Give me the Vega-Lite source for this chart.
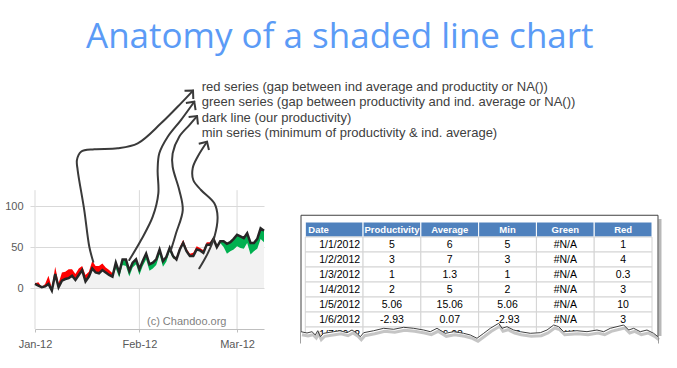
{
  "$schema": "https://vega.github.io/schema/vega-lite/v6.json",
  "background": "white",
  "padding": {"left": 4, "top": 20, "right": 0, "bottom": 0},
  "title": {"text": "Anatomy of a shaded line chart", "font": "Open Sans", "fontSize": 35, "fontWeight": "normal", "color": "#5b9bf6", "anchor": "start", "frame": "group", "baseline": "alphabetic", "offset": -12, "dx": 51},
  "bounds": "flush",
  "spacing": 37,
  "config": {"font": "Liberation Sans", "view": {"stroke": null}},
  "datasets": {
    "grid": [{"date": "2012-01-01"}, {"date": "2012-02-01"}, {"date": "2012-03-01"}],
    "series": [
      {"date": "2012-01-01", "p": 5, "a": 6, "min": 5},
      {"date": "2012-01-02", "p": 3, "a": 7, "min": 3},
      {"date": "2012-01-03", "p": 1, "a": 1.3, "min": 1},
      {"date": "2012-01-04", "p": 2, "a": 5, "min": 2},
      {"date": "2012-01-05", "p": 5.06, "a": 15.06, "min": 5.06},
      {"date": "2012-01-06", "p": -2.93, "a": 0.07, "min": -2.93},
      {"date": "2012-01-07", "p": 17.08, "a": 26.08, "min": 17.08},
      {"date": "2012-01-08", "p": 1, "a": 6, "min": 1},
      {"date": "2012-01-09", "p": 9, "a": 19, "min": 9},
      {"date": "2012-01-10", "p": 11, "a": 20, "min": 11},
      {"date": "2012-01-11", "p": 12, "a": 23, "min": 12},
      {"date": "2012-01-12", "p": 15, "a": 23, "min": 15},
      {"date": "2012-01-13", "p": 10, "a": 17, "min": 10},
      {"date": "2012-01-14", "p": 16, "a": 24, "min": 16},
      {"date": "2012-01-15", "p": 22, "a": 27, "min": 22},
      {"date": "2012-01-16", "p": 8, "a": 16, "min": 8},
      {"date": "2012-01-17", "p": 14, "a": 20, "min": 14},
      {"date": "2012-01-18", "p": 24, "a": 33, "min": 24},
      {"date": "2012-01-19", "p": 19, "a": 27, "min": 19},
      {"date": "2012-01-20", "p": 18, "a": 27, "min": 18},
      {"date": "2012-01-21", "p": 22, "a": 30, "min": 22},
      {"date": "2012-01-22", "p": 19, "a": 25, "min": 19},
      {"date": "2012-01-23", "p": 16, "a": 22, "min": 16},
      {"date": "2012-01-24", "p": 14, "a": 18, "min": 14},
      {"date": "2012-01-25", "p": 31, "a": 24, "min": 24},
      {"date": "2012-01-26", "p": 19, "a": 13, "min": 13},
      {"date": "2012-01-27", "p": 35, "a": 28, "min": 28},
      {"date": "2012-01-28", "p": 35, "a": 27, "min": 27},
      {"date": "2012-01-29", "p": 21, "a": 14, "min": 14},
      {"date": "2012-01-30", "p": 31, "a": 25, "min": 25},
      {"date": "2012-01-31", "p": 35, "a": 29, "min": 29},
      {"date": "2012-02-01", "p": 23, "a": 16, "min": 16},
      {"date": "2012-02-02", "p": 33, "a": 27, "min": 27},
      {"date": "2012-02-03", "p": 42, "a": 35, "min": 35},
      {"date": "2012-02-04", "p": 29, "a": 21, "min": 21},
      {"date": "2012-02-05", "p": 31, "a": 24, "min": 24},
      {"date": "2012-02-06", "p": 35, "a": 28, "min": 28},
      {"date": "2012-02-07", "p": 47, "a": 41, "min": 41},
      {"date": "2012-02-08", "p": 33, "a": 26, "min": 26},
      {"date": "2012-02-09", "p": 38, "a": 32, "min": 32},
      {"date": "2012-02-10", "p": 49, "a": 45, "min": 45},
      {"date": "2012-02-11", "p": 39, "a": 36, "min": 36},
      {"date": "2012-02-12", "p": 35, "a": 38, "min": 35},
      {"date": "2012-02-13", "p": 47, "a": 50, "min": 47},
      {"date": "2012-02-14", "p": 55, "a": 59, "min": 55},
      {"date": "2012-02-15", "p": 45, "a": 48, "min": 45},
      {"date": "2012-02-16", "p": 39, "a": 42, "min": 39},
      {"date": "2012-02-17", "p": 39, "a": 43, "min": 39},
      {"date": "2012-02-18", "p": 47, "a": 51, "min": 47},
      {"date": "2012-02-19", "p": 46, "a": 49, "min": 46},
      {"date": "2012-02-20", "p": 43, "a": 46, "min": 43},
      {"date": "2012-02-21", "p": 53, "a": 56, "min": 53},
      {"date": "2012-02-22", "p": 53, "a": 56, "min": 53},
      {"date": "2012-02-23", "p": 60, "a": 62, "min": 60},
      {"date": "2012-02-24", "p": 50, "a": 53, "min": 50},
      {"date": "2012-02-25", "p": 57, "a": 55, "min": 55},
      {"date": "2012-02-26", "p": 57, "a": 50, "min": 50},
      {"date": "2012-02-27", "p": 54, "a": 42, "min": 42},
      {"date": "2012-02-28", "p": 56, "a": 45, "min": 45},
      {"date": "2012-02-29", "p": 60, "a": 47, "min": 47},
      {"date": "2012-03-01", "p": 65, "a": 51, "min": 51},
      {"date": "2012-03-02", "p": 63, "a": 49, "min": 49},
      {"date": "2012-03-03", "p": 61, "a": 48, "min": 48},
      {"date": "2012-03-04", "p": 67, "a": 55, "min": 55},
      {"date": "2012-03-05", "p": 55, "a": 41, "min": 41},
      {"date": "2012-03-06", "p": 55, "a": 45, "min": 45},
      {"date": "2012-03-07", "p": 60, "a": 48, "min": 48},
      {"date": "2012-03-08", "p": 73, "a": 60, "min": 60},
      {"date": "2012-03-09", "p": 70, "a": 56, "min": 56}
    ],
    "arrows": [
      {"arrow": "red", "i": 0, "date": "2012-01-18T07:00Z", "v": 32.1},
      {"arrow": "red", "i": 1, "date": "2012-01-17T03:00Z", "v": 50.4},
      {"arrow": "red", "i": 2, "date": "2012-01-15T15:00Z", "v": 95.2},
      {"arrow": "red", "i": 3, "date": "2012-01-13T16:00Z", "v": 144.1},
      {"arrow": "red", "i": 4, "date": "2012-01-13T11:00Z", "v": 156.3},
      {"arrow": "red", "i": 5, "date": "2012-01-14T16:00Z", "v": 166.4},
      {"arrow": "red", "i": 6, "date": "2012-01-18T15:00Z", "v": 169.4},
      {"arrow": "red", "i": 7, "date": "2012-01-25T13:00Z", "v": 170.6},
      {"arrow": "red", "i": 8, "date": "2012-01-31T12:00Z", "v": 176.7},
      {"arrow": "red", "i": 9, "date": "2012-02-07T10:00Z", "v": 201.1},
      {"arrow": "red", "i": 10, "date": "2012-02-13T08:00Z", "v": 225.5},
      {"arrow": "red", "i": 11, "date": "2012-02-16T22:00Z", "v": 241.1},
      {"arrow": "green", "i": 0, "date": "2012-01-29T00:00Z", "v": 34.2},
      {"arrow": "green", "i": 1, "date": "2012-02-01T12:00Z", "v": 58.6},
      {"arrow": "green", "i": 2, "date": "2012-02-04T23:00Z", "v": 87.1},
      {"arrow": "green", "i": 3, "date": "2012-02-06T15:00Z", "v": 115.6},
      {"arrow": "green", "i": 4, "date": "2012-02-06T10:00Z", "v": 144.1},
      {"arrow": "green", "i": 5, "date": "2012-02-06T22:00Z", "v": 164.5},
      {"arrow": "green", "i": 6, "date": "2012-02-09T10:00Z", "v": 184.7},
      {"arrow": "green", "i": 7, "date": "2012-02-13T08:00Z", "v": 205.1},
      {"arrow": "green", "i": 8, "date": "2012-02-17T07:00Z", "v": 227.5},
      {"arrow": "dark", "i": 0, "date": "2012-02-10T09:00Z", "v": 46.4},
      {"arrow": "dark", "i": 1, "date": "2012-02-11T21:00Z", "v": 66.8},
      {"arrow": "dark", "i": 2, "date": "2012-02-13T21:00Z", "v": 95.2},
      {"arrow": "dark", "i": 3, "date": "2012-02-12T20:00Z", "v": 119.7},
      {"arrow": "dark", "i": 4, "date": "2012-02-10T21:00Z", "v": 148.1},
      {"arrow": "dark", "i": 5, "date": "2012-02-10T21:00Z", "v": 164.5},
      {"arrow": "dark", "i": 6, "date": "2012-02-12T20:00Z", "v": 184.7},
      {"arrow": "dark", "i": 7, "date": "2012-02-15T20:00Z", "v": 199.0},
      {"arrow": "dark", "i": 8, "date": "2012-02-18T03:00Z", "v": 210.0},
      {"arrow": "min", "i": 0, "date": "2012-02-18T19:00Z", "v": 24.1},
      {"arrow": "min", "i": 1, "date": "2012-02-21T07:00Z", "v": 42.4},
      {"arrow": "min", "i": 2, "date": "2012-02-23T07:00Z", "v": 62.6},
      {"arrow": "min", "i": 3, "date": "2012-02-24T05:00Z", "v": 87.1},
      {"arrow": "min", "i": 4, "date": "2012-02-23T06:00Z", "v": 103.4},
      {"arrow": "min", "i": 5, "date": "2012-02-19T07:00Z", "v": 119.7},
      {"arrow": "min", "i": 6, "date": "2012-02-17T00:00Z", "v": 131.9},
      {"arrow": "min", "i": 7, "date": "2012-02-16T20:00Z", "v": 146.5},
      {"arrow": "min", "i": 8, "date": "2012-02-18T07:00Z", "v": 160.3},
      {"arrow": "min", "i": 9, "date": "2012-02-21T02:00Z", "v": 178.6}
    ],
    "header": [{"col": "Date"}, {"col": "Productivity"}, {"col": "Average"}, {"col": "Min"}, {"col": "Green"}, {"col": "Red"}],
    "table": [
      {"row": 1, "Date": "1/1/2012", "Productivity": 5, "Average": 6, "Min": 5, "Green": "#N/A", "Red": 1},
      {"row": 2, "Date": "1/2/2012", "Productivity": 3, "Average": 7, "Min": 3, "Green": "#N/A", "Red": 4},
      {"row": 3, "Date": "1/3/2012", "Productivity": 1, "Average": 1.3, "Min": 1, "Green": "#N/A", "Red": 0.3},
      {"row": 4, "Date": "1/4/2012", "Productivity": 2, "Average": 5, "Min": 2, "Green": "#N/A", "Red": 3},
      {"row": 5, "Date": "1/5/2012", "Productivity": 5.06, "Average": 15.06, "Min": 5.06, "Green": "#N/A", "Red": 10},
      {"row": 6, "Date": "1/6/2012", "Productivity": -2.93, "Average": 0.07, "Min": -2.93, "Green": "#N/A", "Red": 3},
      {"row": 7, "Date": "1/7/2012", "Productivity": 17.08, "Average": 26.08, "Min": 17.08, "Green": "#N/A", "Red": 9}
    ],
    "torn": [
      {"fx": 0.0, "r": 6.813}, {"fx": 0.0168, "r": 6.9}, {"fx": 0.0308, "r": 6.813}, {"fx": 0.0401, "r": 7.033},
      {"fx": 0.0468, "r": 6.747}, {"fx": 0.0541, "r": 7.147}, {"fx": 0.0636, "r": 6.92}, {"fx": 0.0916, "r": 6.813},
      {"fx": 0.1092, "r": 6.747}, {"fx": 0.1289, "r": 6.88}, {"fx": 0.1429, "r": 6.7}, {"fx": 0.1569, "r": 6.92},
      {"fx": 0.1661, "r": 7.147}, {"fx": 0.1756, "r": 6.88}, {"fx": 0.2036, "r": 6.747}, {"fx": 0.2317, "r": 6.587},
      {"fx": 0.2597, "r": 6.653}, {"fx": 0.2877, "r": 6.52}, {"fx": 0.3157, "r": 6.587}, {"fx": 0.3437, "r": 6.7},
      {"fx": 0.3622, "r": 6.813}, {"fx": 0.381, "r": 6.587}, {"fx": 0.4042, "r": 6.92}, {"fx": 0.4277, "r": 6.813},
      {"fx": 0.4557, "r": 6.92}, {"fx": 0.4742, "r": 7.033}, {"fx": 0.493, "r": 7.253}, {"fx": 0.5118, "r": 6.92},
      {"fx": 0.5303, "r": 6.587}, {"fx": 0.5538, "r": 6.253}, {"fx": 0.563, "r": 6.587}, {"fx": 0.577, "r": 6.48},
      {"fx": 0.5958, "r": 6.7}, {"fx": 0.6143, "r": 6.813}, {"fx": 0.6423, "r": 6.92}, {"fx": 0.6703, "r": 6.88},
      {"fx": 0.6891, "r": 6.7}, {"fx": 0.7079, "r": 6.367}, {"fx": 0.7218, "r": 6.48}, {"fx": 0.7359, "r": 6.813},
      {"fx": 0.7731, "r": 6.747}, {"fx": 0.8011, "r": 6.813}, {"fx": 0.8291, "r": 6.7}, {"fx": 0.8479, "r": 6.813},
      {"fx": 0.8664, "r": 6.587}, {"fx": 0.9039, "r": 6.367}, {"fx": 0.9179, "r": 6.7}, {"fx": 0.9319, "r": 6.587},
      {"fx": 0.9504, "r": 6.813}, {"fx": 0.9692, "r": 6.7}, {"fx": 0.9877, "r": 6.92}, {"fx": 1.0, "r": 7.147}
    ]
  },
  "hconcat": [
    {
      "width": 229,
      "height": 258,
      "layer": [
        {
          "data": {"name": "grid"},
          "mark": {"type": "rule", "color": "#d9d9d9", "strokeWidth": 1},
          "encoding": {
            "x": {"field": "date", "type": "temporal", "scale": {"type": "utc"}, "title": null},
            "y": {"datum": -50, "type": "quantitative", "title": null},
            "y2": {"datum": 119.5}
          }
        },
        {
          "data": {"name": "series"},
          "mark": {"type": "area", "color": "#f2f2f2"},
          "encoding": {
            "x": {"field": "date", "type": "temporal", "title": null,
              "scale": {"type": "utc", "nice": false, "domain": [{"year": 2012, "month": 1, "date": 1, "utc": true}, {"year": 2012, "month": 3, "date": 9, "utc": true}]},
              "axis": {"title": null, "values": [{"year": 2012, "month": 1, "date": 1, "utc": true}, {"year": 2012, "month": 2, "date": 1, "utc": true}, {"year": 2012, "month": 3, "date": 1, "utc": true}],
                "format": "%b-%y", "grid": false, "domainColor": "#bfbfbf", "tickColor": "#bfbfbf", "tickSize": 3, "labelPadding": 6,
                "labelColor": "#595959", "labelFontSize": 11, "labelFont": "Liberation Sans", "labelFlush": false, "labelOverlap": false}},
            "y": {"field": "min", "type": "quantitative", "title": null,
              "scale": {"domain": [-50, 265], "nice": false, "zero": false},
              "axis": {"title": null, "values": [0, 50, 100], "grid": true, "gridColor": "#d9d9d9", "domain": false, "tickColor": "#d9d9d9",
                "tickSize": 5, "labelPadding": 7, "labelColor": "#595959", "labelFontSize": 11, "labelFont": "Liberation Sans"}},
            "y2": {"datum": 0}
          }
        },
        {
          "data": {"name": "series"},
          "mark": {"type": "area", "color": "#00b050"},
          "encoding": {
            "x": {"field": "date", "type": "temporal", "scale": {"type": "utc"}, "title": null},
            "y": {"field": "p", "type": "quantitative", "title": null},
            "y2": {"field": "min"}
          }
        },
        {
          "data": {"name": "series"},
          "mark": {"type": "area", "color": "#ff0000"},
          "encoding": {
            "x": {"field": "date", "type": "temporal", "scale": {"type": "utc"}, "title": null},
            "y": {"field": "a", "type": "quantitative", "title": null},
            "y2": {"field": "min"}
          }
        },
        {
          "data": {"name": "series"},
          "mark": {"type": "line", "color": "#262626", "strokeWidth": 2.5},
          "encoding": {
            "x": {"field": "date", "type": "temporal", "scale": {"type": "utc"}, "title": null},
            "y": {"field": "p", "type": "quantitative", "title": null}
          }
        },
        {
          "data": {"values": [{}]},
          "mark": {"type": "text", "text": "(c) Chandoo.org", "align": "left", "baseline": "middle", "fontSize": 11, "font": "Liberation Sans", "color": "#7f7f7f"},
          "encoding": {
            "x": {"datum": {"year": 2012, "month": 2, "date": 3, "hours": 6, "utc": true}, "type": "temporal", "scale": {"type": "utc"}},
            "y": {"datum": -41.5, "type": "quantitative"}
          }
        },
        {
          "data": {"name": "arrows"},
          "mark": {"type": "line", "interpolate": "catmull-rom", "color": "#3a3a3a", "strokeWidth": 2, "strokeCap": "round"},
          "encoding": {
            "x": {"field": "date", "type": "temporal", "scale": {"type": "utc"}, "title": null},
            "y": {"field": "v", "type": "quantitative", "title": null},
            "detail": {"field": "arrow", "type": "nominal"},
            "order": {"field": "i", "type": "quantitative"}
          }
        },
        {
          "data": {"name": "arrows"},
          "transform": [{"filter": "datum.arrow === 'red' && datum.i === 11"}],
          "mark": {"type": "point", "shape": "M-1,1L0,0L1,1", "size": 144, "filled": false, "stroke": "#3a3a3a", "strokeWidth": 2, "opacity": 1, "angle": 43},
          "encoding": {
            "x": {"field": "date", "type": "temporal", "scale": {"type": "utc"}, "title": null},
            "y": {"field": "v", "type": "quantitative", "title": null}
          }
        },
        {
          "data": {"name": "arrows"},
          "transform": [{"filter": "datum.arrow === 'green' && datum.i === 8"}],
          "mark": {"type": "point", "shape": "M-1,1L0,0L1,1", "size": 144, "filled": false, "stroke": "#3a3a3a", "strokeWidth": 2, "opacity": 1, "angle": 36},
          "encoding": {
            "x": {"field": "date", "type": "temporal", "scale": {"type": "utc"}, "title": null},
            "y": {"field": "v", "type": "quantitative", "title": null}
          }
        },
        {
          "data": {"name": "arrows"},
          "transform": [{"filter": "datum.arrow === 'dark' && datum.i === 8"}],
          "mark": {"type": "point", "shape": "M-1,1L0,0L1,1", "size": 144, "filled": false, "stroke": "#3a3a3a", "strokeWidth": 2, "opacity": 1, "angle": 39},
          "encoding": {
            "x": {"field": "date", "type": "temporal", "scale": {"type": "utc"}, "title": null},
            "y": {"field": "v", "type": "quantitative", "title": null}
          }
        },
        {
          "data": {"name": "arrows"},
          "transform": [{"filter": "datum.arrow === 'min' && datum.i === 9"}],
          "mark": {"type": "point", "shape": "M-1,1L0,0L1,1", "size": 144, "filled": false, "stroke": "#3a3a3a", "strokeWidth": 2, "opacity": 1, "angle": 32},
          "encoding": {
            "x": {"field": "date", "type": "temporal", "scale": {"type": "utc"}, "title": null},
            "y": {"field": "v", "type": "quantitative", "title": null}
          }
        },
        {
          "data": {"values": [{}]},
          "mark": {"type": "text", "text": ["red series (gap between ind average and productity or NA())", "green series (gap between productivity and ind. average or NA())", "dark line (our productivity)", "min series (minimum of productivity & ind. average)"],
            "lineHeight": 15.3, "align": "left", "baseline": "alphabetic", "font": "Liberation Sans", "fontSize": 13, "color": "#404040"},
          "encoding": {
            "x": {"datum": {"year": 2012, "month": 2, "date": 19, "hours": 12, "utc": true}, "type": "temporal", "scale": {"type": "utc"}},
            "y": {"datum": 240.5, "type": "quantitative"}
          }
        }
      ]
    },
    {
      "width": 357,
      "height": 258,
      "resolve": {"scale": {"x": "independent"}},
      "layer": [
        {
          "data": {"values": [{}]},
          "mark": {"type": "rule", "color": "#9a9a9a", "strokeWidth": 3, "opacity": 0.7, "xOffset": 2},
          "encoding": {
            "x": {"datum": 1, "type": "quantitative", "scale": {"domain": [0, 1], "nice": false, "zero": false}, "axis": null},
            "y": {"datum": -0.7, "type": "quantitative", "axis": null, "scale": {"domain": [-10.5667, 6.6333], "reverse": true, "nice": false, "zero": false}},
            "y2": {"datum": 7.1}
          }
        },
        {
          "data": {"values": [{}]},
          "mark": {"type": "rect", "fill": "white", "stroke": "#404040", "strokeWidth": 1},
          "encoding": {
            "x": {"datum": 0, "type": "quantitative", "scale": {"domain": [0, 1], "nice": false, "zero": false}, "axis": null},
            "x2": {"datum": 1},
            "y": {"datum": -0.95, "type": "quantitative", "axis": null},
            "y2": {"datum": 7.6}
          }
        },
        {
          "data": {"name": "header"},
          "mark": {"type": "rect", "fill": "#4f81bd", "stroke": "white", "strokeWidth": 1},
          "encoding": {
            "x": {"field": "col", "type": "nominal", "axis": null, "scale": {"type": "band", "domain": ["Date", "Productivity", "Average", "Min", "Green", "Red"], "paddingInner": 0, "paddingOuter": 0.089, "align": 0.417}},
            "y": {"datum": -0.5, "type": "quantitative", "axis": null},
            "y2": {"datum": 0.5}
          }
        },
        {
          "data": {"name": "table"},
          "transform": [{"fold": ["Date", "Productivity", "Average", "Min", "Green", "Red"], "as": ["col", "val"]}],
          "mark": {"type": "rect", "fill": "white", "stroke": "#d4d4d4", "strokeWidth": 1, "yOffset": -7.5, "y2Offset": 7.5},
          "encoding": {
            "x": {"field": "col", "type": "nominal", "axis": null, "scale": {"type": "band", "domain": ["Date", "Productivity", "Average", "Min", "Green", "Red"], "paddingInner": 0, "paddingOuter": 0.089, "align": 0.417}},
            "y": {"field": "row", "type": "quantitative", "axis": null},
            "y2": {"field": "row"}
          }
        },
        {
          "data": {"name": "header"},
          "transform": [{"filter": "datum.col !== 'Date'"}],
          "mark": {"type": "text", "color": "white", "fontWeight": "bold", "fontSize": 9.5, "font": "Liberation Sans", "align": "center", "baseline": "middle"},
          "encoding": {
            "x": {"field": "col", "type": "nominal", "axis": null, "scale": {"type": "band", "domain": ["Date", "Productivity", "Average", "Min", "Green", "Red"], "paddingInner": 0, "paddingOuter": 0.089, "align": 0.417}},
            "y": {"datum": 0, "type": "quantitative", "axis": null},
            "text": {"field": "col", "type": "nominal"}
          }
        },
        {
          "data": {"name": "header"},
          "transform": [{"filter": "datum.col === 'Date'"}],
          "mark": {"type": "text", "color": "white", "fontWeight": "bold", "fontSize": 9.5, "font": "Liberation Sans", "align": "left", "baseline": "middle", "dx": 3},
          "encoding": {
            "x": {"field": "col", "type": "nominal", "axis": null, "bandPosition": 0, "scale": {"type": "band", "domain": ["Date", "Productivity", "Average", "Min", "Green", "Red"], "paddingInner": 0, "paddingOuter": 0.089, "align": 0.417}},
            "y": {"datum": 0, "type": "quantitative", "axis": null},
            "text": {"field": "col", "type": "nominal"}
          }
        },
        {
          "data": {"name": "table"},
          "transform": [{"fold": ["Productivity", "Average", "Min", "Green", "Red"], "as": ["col", "val"]}],
          "mark": {"type": "text", "color": "#000000", "fontSize": 10.5, "font": "Liberation Sans", "align": "center", "baseline": "middle"},
          "encoding": {
            "x": {"field": "col", "type": "nominal", "axis": null, "scale": {"type": "band", "domain": ["Date", "Productivity", "Average", "Min", "Green", "Red"], "paddingInner": 0, "paddingOuter": 0.089, "align": 0.417}},
            "y": {"field": "row", "type": "quantitative", "axis": null},
            "text": {"field": "val", "type": "nominal"}
          }
        },
        {
          "data": {"name": "table"},
          "transform": [{"fold": ["Date"], "as": ["col", "val"]}],
          "mark": {"type": "text", "color": "#000000", "fontSize": 10.5, "font": "Liberation Sans", "align": "right", "baseline": "middle", "dx": -3},
          "encoding": {
            "x": {"field": "col", "type": "nominal", "axis": null, "bandPosition": 1, "scale": {"type": "band", "domain": ["Date", "Productivity", "Average", "Min", "Green", "Red"], "paddingInner": 0, "paddingOuter": 0.089, "align": 0.417}},
            "y": {"field": "row", "type": "quantitative", "axis": null},
            "text": {"field": "val", "type": "nominal"}
          }
        },
        {
          "data": {"name": "torn"},
          "mark": {"type": "area", "fill": "white", "opacity": 1},
          "encoding": {
            "x": {"field": "fx", "type": "quantitative", "axis": null, "scale": {"domain": [0, 1], "nice": false, "zero": false}},
            "y": {"field": "r", "type": "quantitative", "axis": null},
            "y2": {"datum": 8.6}
          }
        },
        {
          "data": {"name": "torn"},
          "mark": {"type": "line", "color": "#8c8c8c", "strokeWidth": 3, "opacity": 0.5, "yOffset": 3, "xOffset": 1},
          "encoding": {
            "x": {"field": "fx", "type": "quantitative", "axis": null, "scale": {"domain": [0, 1], "nice": false, "zero": false}},
            "y": {"field": "r", "type": "quantitative", "axis": null}
          }
        },
        {
          "data": {"name": "torn"},
          "mark": {"type": "line", "color": "#404040", "strokeWidth": 1},
          "encoding": {
            "x": {"field": "fx", "type": "quantitative", "axis": null, "scale": {"domain": [0, 1], "nice": false, "zero": false}},
            "y": {"field": "r", "type": "quantitative", "axis": null}
          }
        }
      ]
    }
  ]
}
